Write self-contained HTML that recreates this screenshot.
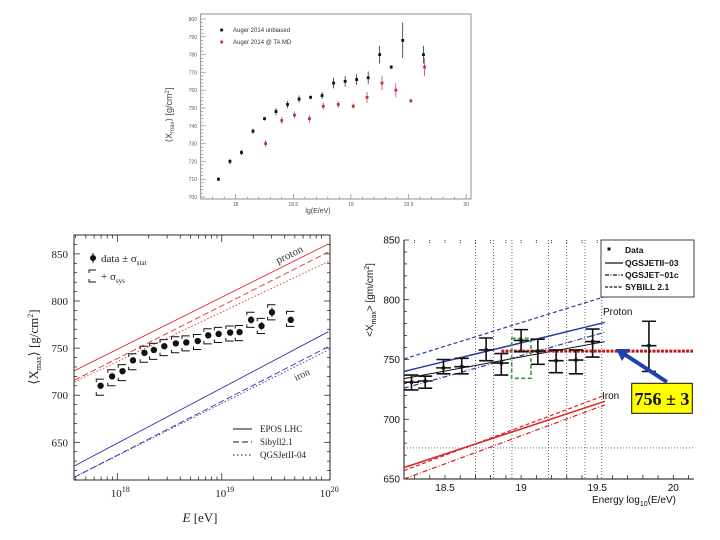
<!DOCTYPE html>
<html><head><meta charset="utf-8"><style>
html,body{margin:0;padding:0;background:#fff;}
svg{display:block;}
</style></head><body>
<svg id="root" width="720" height="540" viewBox="0 0 720 540" xmlns="http://www.w3.org/2000/svg"></svg>
<script>
// ---------- Data ----------
// Panel 1 (Auger 2014)
const p1BlackLg = [17.85,17.95,18.05,18.15,18.25,18.35,18.45,18.55,18.65,18.75,18.85,18.95,19.05,19.15,19.25,19.35,19.45,19.63];
const p1BlackVal = [710,720,725,737,744,748,752,755,756,757,764,765,766,767,780,773,788,780];
const p1BlackErr = [1,1.5,1.5,1.5,1,2,2,2,1,2,3,3,3,3.5,5,1,10,5];
const p1RedLg = [18.26,18.4,18.51,18.64,18.76,18.89,19.02,19.14,19.27,19.39,19.52,19.64];
const p1RedVal = [730,743,746,744,751,752,751,756,764,760,754,773];
const p1RedErr = [2,2,2,2,2,2,1.5,3,4,4,1,5];
const p1YTicks = [700,710,720,730,740,750,760,770,780,790,800];
const p1XTicks = [18,18.5,19,19.5,20];
// Panel 2 (Auger vs models, log E)
const p2Lg = [17.84,17.95,18.05,18.15,18.26,18.35,18.45,18.56,18.66,18.77,18.87,18.97,19.08,19.17,19.28,19.38,19.48,19.66];
const p2Val = [710,720,725.5,737,745,748,752,755,756,757.5,763.5,765,766.5,767,780,773.5,788,780];
const p2Stat = [2,2,2,2,2,2,2,2,2,2,2,2,2,2,4,4,5,3];
const p2SysUp = [7,7,7,7,7,7,7,7,7,7,7,7,7,7,8,8,8,9];
const p2SysDn = [10,10,10,10,10,10,10,10,9,9,9,9,9,9,8,8,8,7];
const p2YTicks = [650,700,750,800,850];
const p2XDecades = [18,19,20];
const p2LineStartLg = 17.59, p2LineEndLg = 20.02;
const p2ProtonEpos = [726,860.5], p2ProtonSib = [716,852], p2ProtonQgs = [714,842];
const p2IronEpos = [625,767.4], p2IronSib = [613,751.5], p2IronQgs = [613,748];
// Panel 3 (HiRes style)
const p3Lg = [18.28,18.37,18.49,18.61,18.77,18.87,19.0,19.11,19.23,19.36,19.47,19.84];
const p3Val = [731,732,743,744,758,747,766,757,749,749.5,765,761.6];
const p3Up = [737,736,750,751,768,755,775,767,758,758,775.5,782];
const p3Dn = [724.5,726,738,738,749,737,756.5,746,739,738,752,740];
const p3YTicks = [650,700,750,800,850];
const p3XTicks = [18.5,19,19.5,20];
const p3LineStart = 18.23, p3LineEnd = 19.55;
const p3ProtonSib = [750.4,802.6], p3ProtonQ2 = [740,781], p3ProtonQ1 = [726,772.8], p3Black = [734,765];
const p3IronQ2 = [659.5,715], p3IronSib = [657,720], p3IronQ1 = [650,712];
const p3Mean = 757;
const p3VLines = [18.7,18.82,18.94,19.18,19.3,19.42,19.53];
const p3HLine = 676;

// ---------- scales ----------
const X1 = v => 235.7 + (v-18)*115.2, Y1 = v => 197 - (v-700)*1.78;
const X2 = v => 117.3 + (v-18)*104.5, Y2 = v => 442.3 - (v-650)*0.942;
const X3 = v => 445 + (v-18.5)*152.2, Y3 = v => 240 + (850-v)*1.195;

const NS = "http://www.w3.org/2000/svg";
const root = document.getElementById('root');
function mk(tag, attrs, parent){ const e=document.createElementNS(NS,tag); for(const k in attrs) e.setAttribute(k,attrs[k]); (parent||root).appendChild(e); return e; }
function grp(){ return mk('g',{}); }
function txt(s, attrs, parent){ const t=mk('text',attrs,parent); t.textContent=s; return t; }

// ================= PANEL 1 =================
const g1 = grp();


let f1 = mk('rect',{x:200.7,y:14,width:270.3,height:185,fill:'#fff',stroke:'#777','stroke-width':0.8},g1);


for(let v=700; v<=800; v+=2){
  const big = v%10===0;
  const t = mk('line',{x1:200.7,x2:200.7+(big?5:2.5),y1:Y1(v),y2:Y1(v),stroke:'#777','stroke-width':0.6},g1);
  
  
}
p1YTicks.forEach(v=>{
  const t = txt(String(v),{x:197,y:Y1(v)+2,'font-size':5,'text-anchor':'end',fill:'#555','font-family':'Liberation Sans, sans-serif'},g1);
  
  
});
for(let v=17.8; v<=20.001; v+=0.1){
  const big = Math.abs(v*2-Math.round(v*2))<0.01;
  const t = mk('line',{x1:X1(v),x2:X1(v),y1:199,y2:199-(big?5:2.5),stroke:'#777','stroke-width':0.6},g1);
  
  
}
p1XTicks.forEach(v=>{
  const t = txt(String(v),{x:X1(v),y:206,'font-size':5,'text-anchor':'middle',fill:'#555','font-family':'Liberation Sans, sans-serif'},g1);
  
  
});
let xt1 = txt('lg(E/eV)',{x:318,y:213,'font-size':7,'text-anchor':'middle',fill:'#444','font-family':'Liberation Sans, sans-serif'},g1);


let yt1 = mk('text',{x:0,y:0,'font-size':9,'text-anchor':'middle',fill:'#444','font-family':'Liberation Sans, sans-serif',transform:'translate(172,115) rotate(-90)'},g1);
yt1.innerHTML = '⟨X<tspan font-size="6" dy="2">max</tspan><tspan dy="-2">⟩ [g/cm</tspan><tspan font-size="6" dy="-3">2</tspan><tspan dy="3">]</tspan>';


function p1series(lgs, vals, errs, col, name){
  lgs.forEach((l,i)=>{
    const x=X1(l), y=Y1(vals[i]);
    const e = mk('line',{x1:x,x2:x,y1:Y1(vals[i]+errs[i]),y2:Y1(vals[i]-errs[i]),stroke:col,'stroke-width':0.7},g1);
    
    
    const p = mk('rect',{x:x-1.4,y:y-1.4,width:2.8,height:2.8,fill:col},g1);
    
    
  });
}
p1series(p1BlackLg,p1BlackVal,p1BlackErr,'#111','auger-unbiased');
p1series(p1RedLg,p1RedVal,p1RedErr,'#c0303a','auger-ta-md');
let l1 = mk('rect',{x:220.3,y:28.6,width:2.8,height:2.8,fill:'#111'},g1);


let l1t = txt('Auger 2014 unbiased',{x:233,y:32,'font-size':6,fill:'#333','font-family':'Liberation Sans, sans-serif'},g1);


let l2 = mk('rect',{x:220.3,y:40.6,width:2.8,height:2.8,fill:'#c0303a'},g1);


let l2t = txt('Auger 2014 @ TA MD',{x:233,y:44,'font-size':6,fill:'#333','font-family':'Liberation Sans, sans-serif'},g1);



// ================= PANEL 2 =================
const g2 = grp();


let f2 = mk('rect',{x:74,y:235,width:256,height:245,fill:'none',stroke:'#111','stroke-width':0.9},g2);


const serif = 'Liberation Serif, serif';
for(let v=620; v<=860; v+=10){
  const big = v%50===0;
  [[74,74+(big?6:3)],[330,330-(big?6:3)]].forEach(([a,b])=>{
    const t = mk('line',{x1:a,x2:b,y1:Y2(v),y2:Y2(v),stroke:'#111','stroke-width':0.7},g2);
    
    
  });
}
p2YTicks.forEach(v=>{
  const t = txt(String(v),{x:68,y:Y2(v)+4,'font-size':11,'text-anchor':'end',fill:'#222','font-family':serif},g2);
  
  
});
for(let d=17; d<=19; d++){
  for(let m=1; m<=9; m++){
    const lg = d + Math.log10(m);
    const x = X2(lg);
    if(x<74||x>330.5) continue;
    const big = m===1;
    [[480,480-(big?7:3.5)],[235,235+(big?7:3.5)]].forEach(([a,b])=>{
      const t = mk('line',{x1:x,x2:x,y1:a,y2:b,stroke:'#111','stroke-width':0.7},g2);
      
      
    });
  }
}
p2XDecades.forEach(d=>{
  const t = mk('text',{x:X2(d)+3,y:497,'font-size':11,'text-anchor':'middle',fill:'#222','font-family':serif},g2);
  t.innerHTML = '10<tspan font-size="8" dy="-5">'+d+'</tspan>';
  
  
});
let xt2 = mk('text',{x:200,y:522,'font-size':13,'text-anchor':'middle',fill:'#222','font-family':serif},g2);
xt2.innerHTML = '<tspan font-style="italic">E</tspan> [eV]';


let yt2 = mk('text',{x:0,y:0,'font-size':13,'text-anchor':'middle',fill:'#222','font-family':serif,transform:'translate(38,347) rotate(-90)'},g2);
yt2.innerHTML = '⟨X<tspan font-size="8" dy="3">max</tspan><tspan dy="-3">⟩ [g/cm</tspan><tspan font-size="8" dy="-5">2</tspan><tspan dy="5">]</tspan>';


function p2line(vals, col, dash, name){
  const l = mk('line',{x1:X2(p2LineStartLg),y1:Y2(vals[0]),x2:X2(p2LineEndLg),y2:Y2(vals[1]),stroke:col,'stroke-width':0.9,'stroke-dasharray':dash},g2);
  
  
}
p2line(p2ProtonEpos,'#d33','', 'proton-epos-line');
p2line(p2ProtonSib,'#d33','6,3','proton-sibyll-line');
p2line(p2ProtonQgs,'#d33','1.5,2','proton-qgsjet-line');
p2line(p2IronEpos,'#33a','', 'iron-epos-line');
p2line(p2IronSib,'#33a','6,3','iron-sibyll-line');
p2line(p2IronQgs,'#33a','1.5,2','iron-qgsjet-line');
let pr2 = txt('proton',{x:0,y:0,'font-size':11,fill:'#333','font-family':serif,transform:'translate(278,264) rotate(-26)'},g2);


let ir2 = txt('iron',{x:0,y:0,'font-size':10,fill:'#333','font-family':serif,transform:'translate(296,381) rotate(-26)'},g2);


p2Lg.forEach((l,i)=>{
  const x=X2(l), v=p2Val[i];
  const yt=Y2(v+p2SysUp[i]), yb=Y2(v-p2SysDn[i]);
  const b = mk('path',{d:`M${x-4.3},${yt+3}V${yt}H${x+3.5}M${x-4.3},${yb-3}V${yb}H${x+3.5}`,fill:'none',stroke:'#111','stroke-width':1},g2);
  
  
  const e = mk('line',{x1:x,x2:x,y1:Y2(v+p2Stat[i]),y2:Y2(v-p2Stat[i]),stroke:'#111','stroke-width':1},g2);
  
  
  const p = mk('circle',{cx:x,cy:Y2(v),r:3.2,fill:'#111'},g2);
  
  
});
let lgd1 = mk('circle',{cx:93,cy:258,r:3,fill:'#111'},g2);


mk('line',{x1:93,x2:93,y1:253,y2:263,stroke:'#111'},g2);
let lgd1t = mk('text',{x:101,y:262,'font-size':11,fill:'#222','font-family':serif},g2);
lgd1t.innerHTML = 'data ± σ<tspan font-size="7" dy="3">stat</tspan>';


let lgd2 = mk('path',{d:'M89,273V270H96M89,279V282H96',fill:'none',stroke:'#111'},g2);


let lgd2t = mk('text',{x:101,y:280,'font-size':11,fill:'#222','font-family':serif},g2);
lgd2t.innerHTML = '+ σ<tspan font-size="7" dy="3">sys</tspan>';


[['EPOS LHC','',429],['Sibyll2.1','6,3',442],['QGSJetII-04','1.5,2.5',455]].forEach(([s,d,y])=>{
  const l = mk('line',{x1:233,x2:252,y1:y,y2:y,stroke:'#111','stroke-width':1,'stroke-dasharray':d},g2);
  
  
  const t = txt(s,{x:260,y:y+3,'font-size':9,fill:'#222','font-family':serif},g2);
  
  
});

// ================= PANEL 3 =================
const g3 = grp();


const sans='Liberation Sans, sans-serif';
p3VLines.forEach(v=>{
  const l = mk('line',{x1:X3(v),x2:X3(v),y1:240,y2:479,stroke:'#222','stroke-width':0.7,'stroke-dasharray':'1,2'},g3);
  
  
});
let hl = mk('line',{x1:404,x2:694,y1:Y3(p3HLine),y2:Y3(p3HLine),stroke:'#222','stroke-width':0.7,'stroke-dasharray':'1,2'},g3);


let f3 = mk('path',{d:'M404,240V479H694',fill:'none',stroke:'#111','stroke-width':1},g3);


for(let v=650; v<=850; v+=10){
  const big=v%50===0;
  const t = mk('line',{x1:404,x2:404+(big?5:3),y1:Y3(v),y2:Y3(v),stroke:'#111','stroke-width':0.7},g3);
  
  
}
for(let v=18.3; v<=20.15; v+=0.1){
  const t = mk('line',{x1:X3(v),x2:X3(v),y1:240,y2:244,stroke:'#111','stroke-width':0.8,'stroke-dasharray':'1,1'},g3);
  
  
  const b = mk('line',{x1:X3(v),x2:X3(v),y1:479,y2:475,stroke:'#111','stroke-width':0.7},g3);
  
  
}
p3YTicks.forEach(v=>{
  const t = txt(String(v),{x:400,y:Y3(v)+3.5,'font-size':10,'text-anchor':'end',fill:'#111','font-family':sans},g3);
  
  
});
p3XTicks.forEach(v=>{
  const t = txt(String(v),{x:X3(v),y:491,'font-size':10,'text-anchor':'middle',fill:'#111','font-family':sans},g3);
  
  
});
let xt3 = mk('text',{x:592,y:503,'font-size':10,fill:'#111','font-family':sans},g3);
xt3.innerHTML = 'Energy  log<tspan font-size="7" dy="3">10</tspan><tspan dy="-3">(E/eV)</tspan>';


let yt3 = mk('text',{x:0,y:0,'font-size':10,'text-anchor':'middle',fill:'#111','font-family':sans,transform:'translate(373,300) rotate(-90)'},g3);
yt3.innerHTML = '&lt;X<tspan font-size="7" dy="3">max</tspan><tspan dy="-3">&gt;  [gm/cm</tspan><tspan font-size="7" dy="-4">2</tspan><tspan dy="4">]</tspan>';


function p3line(vals,col,dash,name,w){
  const l = mk('line',{x1:X3(p3LineStart),y1:Y3(vals[0]),x2:X3(p3LineEnd),y2:Y3(vals[1]),stroke:col,'stroke-width':w||1.2,'stroke-dasharray':dash},g3);
  
  
}
p3line(p3ProtonSib,'#2a3aa8','4,2.5','proton-sybill-line');
p3line(p3ProtonQ2,'#2a3aa8','','proton-qgsjetii-line',1.5);
p3line(p3ProtonQ1,'#2a3aa8','5,2,1,2','proton-qgsjet01-line');
p3line(p3Black,'#111','','data-fit-line',1);
p3line(p3IronQ2,'#d22','','iron-qgsjetii-line',1.5);
p3line(p3IronSib,'#d22','4,2.5','iron-sybill-line');
p3line(p3IronQ1,'#d22','5,2,1,2','iron-qgsjet01-line');
let mean = mk('line',{x1:X3(18.87),x2:X3(20.13),y1:Y3(p3Mean),y2:Y3(p3Mean),stroke:'#c01818','stroke-width':3,'stroke-dasharray':'3,1.2'},g3);


let gb = mk('rect',{x:511.7,y:338.3,width:19.3,height:40,fill:'none',stroke:'#3a9a3a','stroke-width':1.6,'stroke-dasharray':'4,2.5'},g3);


p3Lg.forEach((l,i)=>{
  const x=X3(l);
  const d = `M${x},${Y3(p3Up[i])}V${Y3(p3Dn[i])}M${x-7},${Y3(p3Up[i])}H${x+7}M${x-7},${Y3(p3Dn[i])}H${x+7}M${x-7.5},${Y3(p3Val[i])}H${x+7.5}`;
  const e = mk('path',{d:d,fill:'none',stroke:'#111','stroke-width':1.6},g3);
  
  
  const p = mk('rect',{x:x-1.6,y:Y3(p3Val[i])-1.6,width:3.2,height:3.2,fill:'#111'},g3);
  
  
});
let pr3 = txt('Proton',{x:603,y:315,'font-size':10,fill:'#111','font-family':sans},g3);


let ir3 = txt('Iron',{x:602,y:399,'font-size':10,fill:'#111','font-family':sans},g3);


let lb = mk('rect',{x:601,y:240,width:93,height:57,fill:'#fff',stroke:'#111','stroke-width':0.8},g3);


let ld = mk('rect',{x:607.5,y:247.5,width:3,height:3,fill:'#111'},g3);


let ldt = txt('Data',{x:625,y:253,'font-size':8.5,'font-weight':'bold',fill:'#111','font-family':sans},g3);


[['QGSJETII−03','',263],['QGSJET−01c','4,1.5,1,1.5',275],['SYBILL 2.1','3,1.5',287]].forEach(([s,d,y])=>{
  const l = mk('line',{x1:605,x2:623,y1:y,y2:y,stroke:'#111','stroke-width':1.2,'stroke-dasharray':d},g3);
  
  
  const t = txt(s,{x:625,y:y+3,'font-size':8.5,'font-weight':'bold',fill:'#111','font-family':sans},g3);
  
  
});
let arr = mk('path',{d:'M667,382L624,354',stroke:'#2040b0','stroke-width':4,fill:'none'},g3);


let ah = mk('path',{d:'M616,349L630,349L622,361Z',fill:'#2040b0'},g3);


let yb = mk('rect',{x:631.7,y:383.3,width:60.6,height:30,fill:'#ffff00',stroke:'#111','stroke-width':1},g3);


let ybt = txt('756 ± 3',{x:662,y:405,'font-size':18,'font-weight':'bold','text-anchor':'middle',fill:'#111','font-family':serif},g3);


</script>
</body></html>
